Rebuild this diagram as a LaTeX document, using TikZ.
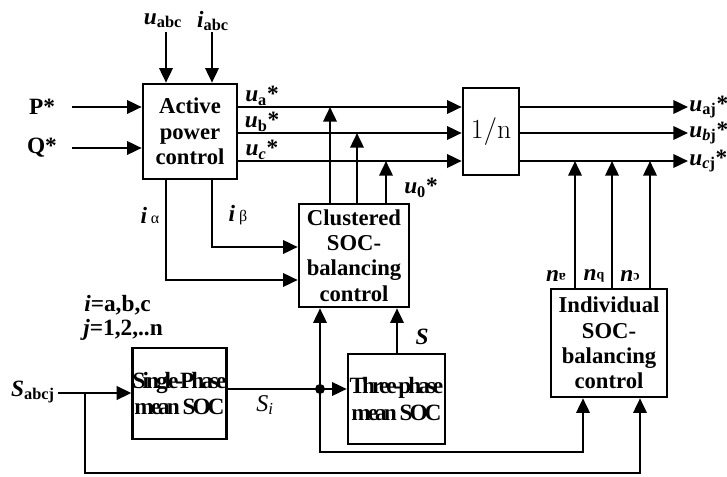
\documentclass[tikz,border=0pt]{standalone}
\usepackage[no-math]{fontspec}
\setmainfont{Liberation Serif}
\usetikzlibrary{arrows.meta}
\newcommand{\bi}[1]{\textbf{\textit{#1}}}
\newcommand{\rotsup}[1]{\raisebox{6pt}{\scalebox{0.6}{\rotatebox{180}{#1}}}}
\begin{document}
\begin{tikzpicture}[x=0.75pt,y=-0.75pt,
  line width=1.9pt,
  box/.style={draw, line width=1.9pt, fill=white, align=center, inner sep=0pt,
    font=\fontsize{17}{19}\selectfont\bfseries},
  condbox/.style={box, font=\fontsize{17.5}{20}\selectfont\bfseries\addfontfeature{LetterSpace=-13}},
  arr/.style={-{Triangle[length=11pt,width=10pt]}},
  lbl/.style={font=\fontsize{17.5}{19}\selectfont\bfseries, inner sep=0pt},
  dot/.style={circle, fill=black, inner sep=0pt, minimum size=7.5pt}
]
\useasboundingbox (0,0) rectangle (727,477);

% blocks
\node[box, minimum width=70.5pt, minimum height=71.25pt] (apc) at (190,131.5) {Active\\power\\control};
\node[box, minimum width=42pt, minimum height=65.25pt, font=\fontsize{20}{22}\selectfont] (nbox) at (491,131.5) {$1/\mathrm{n}$};
\node[box, minimum width=82.5pt, minimum height=77.25pt] (clus) at (354,255.5) {Clustered\\SOC-\\balancing\\control};
\node[box, minimum width=87pt, minimum height=81pt] (indiv) at (609,343) {Individual\\SOC-\\balancing\\control};
\node[condbox, minimum width=69.75pt, minimum height=68.25pt] (single) at (179.5,393.5) {Single-Phase\\mean SOC};
\node[condbox, minimum width=72.75pt, minimum height=67.5pt] (three) at (396.5,399) {Three-phase\\mean SOC};

% inputs to active power control
\node[lbl] (uabc) at (163,21) {\bi{u}\textsubscript{abc}};
\node[lbl] (iabc) at (213,21) {\bi{i}\textsubscript{abc}};
\coordinate (uabcS) at (166,32);
\coordinate (iabcS) at (212,32);
\draw[arr] (uabcS) -- (apc.north -| uabcS);
\draw[arr] (iabcS) -- (apc.north -| iabcS);

\node[lbl] (P) at (42,107) {P*};
\node[lbl] (Q) at (42,148) {Q*};
\coordinate (Ps) at (72,107);
\coordinate (Qs) at (72,148);
\draw[arr] (Ps) -- (apc.west |- Ps);
\draw[arr] (Qs) -- (apc.west |- Qs);

% three reference lines
\coordinate (la) at (237,107);
\coordinate (lb) at (237,133);
\coordinate (lc) at (237,161);
\draw[arr] (la) -- (nbox.west |- la);
\draw[arr] (lb) -- (nbox.west |- lb);
\draw[arr] (lc) -- (nbox.west |- lc);
\node[lbl] (ua) at (262,96) {\bi{u}\textsubscript{a}*};
\node[lbl] (ub) at (262,122) {\bi{u}\textsubscript{b}*};
\node[lbl] (uc) at (262,150) {\bi{u}\textsubscript{\textit{c}}*};

% clustered to lines
\coordinate (ca) at (330,107);
\coordinate (cb) at (357,133);
\coordinate (cc) at (386,161);
\draw[arr] (clus.north -| ca) -- (ca);
\draw[arr] (clus.north -| cb) -- (cb);
\draw[arr] (clus.north -| cc) -- (cc);
\node[lbl] (u0) at (421,188) {\bi{u}\textsubscript{0}*};

% outputs
\coordinate (oa) at (688,107);
\coordinate (ob) at (688,133);
\coordinate (oc) at (688,161);
\draw[arr] (nbox.east |- oa) -- (oa);
\draw[arr] (nbox.east |- ob) -- (ob);
\draw[arr] (nbox.east |- oc) -- (oc);
\node[lbl, anchor=west] (uaj) at (oa) {\bi{u}\textsubscript{aj}*};
\node[lbl, anchor=west] (ubj) at (ob) {\bi{u}\textsubscript{\textit{b}j}*};
\node[lbl, anchor=west] (ucj) at (oc) {\bi{u}\textsubscript{\textit{c}j}*};

% individual to line c
\coordinate (na) at (575,161);
\coordinate (nb) at (612,161);
\coordinate (nc) at (650,161);
\draw[arr] (indiv.north -| na) -- (na);
\draw[arr] (indiv.north -| nb) -- (nb);
\draw[arr] (indiv.north -| nc) -- (nc);
\node[lbl] (nla) at (556,276) {\bi{n}\rotsup{a}};
\node[lbl] (nlb) at (594,276) {\bi{n}\rotsup{b}};
\node[lbl] (nlc) at (630,276) {\bi{n}\rotsup{c}};

% currents
\coordinate (ia) at (166,280);
\coordinate (ib) at (212,247);
\draw[arr] (apc.south -| ia) -- (ia) -- (clus.west |- ia);
\draw[arr] (apc.south -| ib) -- (ib) -- (clus.west |- ib);
\node[lbl] (ial) at (150,215) {\bi{i}\,{\fontsize{12}{12}\selectfont\mdseries α}};
\node[lbl] (ibe) at (238,215) {\bi{i}\,{\fontsize{12}{12}\selectfont\mdseries β}};

\node[lbl, anchor=west] (ij1) at (83,305) {\bi{i}=a,b,c};
\node[lbl, anchor=west] (ij2) at (82,330) {\bi{j}=1,2,..n};

% SOC chain
\node[lbl, anchor=east] (Sabcj) at (56,392) {\bi{S}\textsubscript{abcj}};
\coordinate (sin) at (58,393);
\coordinate (br) at (85,393);
\draw[arr] (sin) -- (single.west |- sin);
\coordinate (bl) at (85,473);
\coordinate (brr) at (640,473);
\draw[arr] (br) -- (bl) -- (brr) -- (indiv.south -| brr);

\coordinate (junc) at (320,389);
\draw (single.east |- junc) -- (junc);
\draw[arr] (junc) -- (three.west |- junc);
\draw[arr] (junc) -- (clus.south -| junc);
\coordinate (lpl) at (320,452);
\coordinate (lpr) at (583,452);
\draw[arr] (junc) -- (lpl) -- (lpr) -- (indiv.south -| lpr);
\node[dot] (jd) at (junc) {};
\node[lbl, font=\fontsize{18}{19}\selectfont] (Si) at (265,405) {\textit{S\textsubscript{i}}};

\coordinate (sx) at (397,0);
\draw[arr] (three.north -| sx) -- (clus.south -| sx);
\node[lbl] (S) at (422,337) {\bi{S}};
\end{tikzpicture}
\end{document}
